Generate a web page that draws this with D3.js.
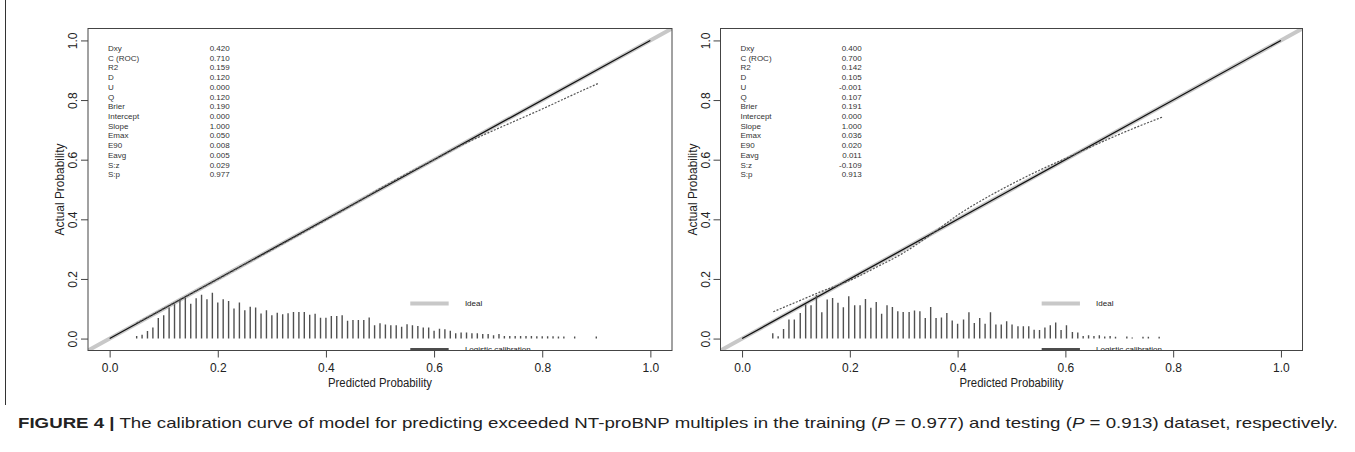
<!DOCTYPE html>
<html>
<head>
<meta charset="utf-8">
<script src="https://cdnjs.cloudflare.com/ajax/libs/d3/7.8.5/d3.min.js"></script>
<style>
  body { margin: 0; background: #fff; }
  svg { display: block; }
  text { font-family: "Liberation Sans", Arial, sans-serif; }
</style>
</head>
<body>
<div id="svg_area"></div>
<script>
// Statistic names and values printed in the upper left of each panel
var statNames = ["Dxy", "C (ROC)", "R2", "D", "U", "Q", "Brier", "Intercept", "Slope", "Emax", "E90", "Eavg", "S:z", "S:p"];
var trainStats = ["0.420", "0.710", "0.159", "0.120", "0.000", "0.120", "0.190", "0.000", "1.000", "0.050", "0.008", "0.005", "0.029", "0.977"];
var testStats = ["0.400", "0.700", "0.142", "0.105", "-0.001", "0.107", "0.191", "0.000", "1.000", "0.036", "0.020", "0.011", "-0.109", "0.913"];

// Axis ticks and legend
var axisTicks = [0, 0.2, 0.4, 0.6, 0.8, 1.0];
var legendLabels = ["Ideal", "Logistic calibration", "Nonparametric"];

// Logistic calibration (intercept, slope) for each dataset
var trainCal = [0, 1];
var testCal = [0, 1];

// Spike histogram of predicted probabilities (training)
var trainP = [0.05, 0.06, 0.07, 0.08, 0.09, 0.10, 0.11, 0.12, 0.13, 0.14,
  0.15, 0.16, 0.17, 0.18, 0.19, 0.20, 0.21, 0.22, 0.23, 0.24,
  0.25, 0.26, 0.27, 0.28, 0.29, 0.30, 0.31, 0.32, 0.33, 0.34,
  0.35, 0.36, 0.37, 0.38, 0.39, 0.40, 0.41, 0.42, 0.43, 0.44,
  0.45, 0.46, 0.47, 0.48, 0.49, 0.50, 0.51, 0.52, 0.53, 0.54,
  0.55, 0.56, 0.57, 0.58, 0.59, 0.60, 0.61, 0.62, 0.63, 0.64,
  0.65, 0.66, 0.67, 0.68, 0.69, 0.70, 0.71, 0.72, 0.73, 0.74,
  0.75, 0.76, 0.77, 0.78, 0.79, 0.80, 0.81, 0.82, 0.83, 0.84,
  0.86, 0.90];
var trainFreq = [0.009, 0.013, 0.025, 0.037, 0.069, 0.078, 0.104, 0.115, 0.132, 0.137,
  0.117, 0.135, 0.147, 0.132, 0.154, 0.121, 0.132, 0.126, 0.101, 0.121,
  0.095, 0.107, 0.104, 0.084, 0.095, 0.078, 0.087, 0.082, 0.085, 0.089,
  0.089, 0.089, 0.080, 0.083, 0.070, 0.070, 0.076, 0.076, 0.078, 0.060,
  0.062, 0.062, 0.062, 0.071, 0.045, 0.051, 0.047, 0.045, 0.045, 0.040,
  0.048, 0.045, 0.042, 0.037, 0.037, 0.026, 0.033, 0.031, 0.026, 0.018,
  0.020, 0.020, 0.018, 0.018, 0.015, 0.015, 0.011, 0.015, 0.009, 0.009,
  0.009, 0.009, 0.009, 0.009, 0.008, 0.008, 0.008, 0.008, 0.007, 0.007,
  0.007, 0.007];

// Spike histogram of predicted probabilities (testing)
var testP = [0.057, 0.067, 0.077, 0.087, 0.097, 0.108, 0.118, 0.128, 0.138, 0.148,
  0.158, 0.168, 0.178, 0.188, 0.198, 0.209, 0.219, 0.229, 0.239, 0.249,
  0.259, 0.269, 0.279, 0.289, 0.299, 0.310, 0.320, 0.330, 0.340, 0.350,
  0.360, 0.370, 0.380, 0.390, 0.400, 0.411, 0.421, 0.431, 0.441, 0.451,
  0.461, 0.471, 0.481, 0.491, 0.501, 0.512, 0.522, 0.532, 0.542, 0.552,
  0.562, 0.572, 0.582, 0.592, 0.602, 0.613, 0.623, 0.633, 0.643, 0.653,
  0.663, 0.673, 0.683, 0.693,
  0.714, 0.724, 0.744, 0.754, 0.774];
var testFreq = [0.018, 0.008, 0.032, 0.064, 0.064, 0.086, 0.114, 0.112, 0.147, 0.088,
  0.131, 0.136, 0.120, 0.105, 0.142, 0.112, 0.112, 0.133, 0.103, 0.123,
  0.083, 0.112, 0.106, 0.092, 0.089, 0.089, 0.094, 0.092, 0.069, 0.106,
  0.069, 0.071, 0.086, 0.061, 0.050, 0.064, 0.088, 0.052, 0.069, 0.050,
  0.088, 0.047, 0.047, 0.058, 0.047, 0.041, 0.041, 0.041, 0.030, 0.029,
  0.037, 0.045, 0.054, 0.029, 0.045, 0.022, 0.020, 0.009, 0.011, 0.009,
  0.011, 0.007, 0.009, 0.006,
  0.007, 0.004, 0.006, 0.006, 0.006];

// Nonparametric (lowess) calibration curves
var trainLowessX = [0.05, 0.10, 0.15, 0.20, 0.25, 0.30, 0.35, 0.40, 0.45, 0.50, 0.55, 0.60, 0.65, 0.70, 0.75, 0.80, 0.85, 0.905];
var trainLowessY = [0.052, 0.101, 0.150, 0.199, 0.249, 0.298, 0.348, 0.398, 0.449, 0.503, 0.553, 0.600, 0.648, 0.690, 0.730, 0.770, 0.812, 0.857];
var testLowessX = [0.058, 0.10, 0.15, 0.20, 0.25, 0.30, 0.35, 0.40, 0.45, 0.50, 0.55, 0.60, 0.65, 0.70, 0.75, 0.78];
var testLowessY = [0.090, 0.122, 0.160, 0.195, 0.240, 0.288, 0.348, 0.414, 0.469, 0.518, 0.563, 0.604, 0.645, 0.685, 0.722, 0.743];

// SVG area
var svgWidth = 1355;
var svgHeight = 452;

var svg = d3.select("#svg_area")
  .append("svg")
  .attr("width", svgWidth)
  .attr("height", svgHeight);

// figure frame line on the left
svg.append("line")
  .attr("x1", 5.5).attr("x2", 5.5)
  .attr("y1", 0).attr("y2", 405)
  .attr("stroke", "#333")
  .attr("stroke-width", 1);

var plotTop = 28.5;
var plotBottom = 350.5;

var panels = [
  { left: 88, right: 672, p: trainP, freq: trainFreq, lx: trainLowessX, ly: trainLowessY, stats: trainStats, cal: trainCal },
  { left: 720.5, right: 1302.5, p: testP, freq: testFreq, lx: testLowessX, ly: testLowessY, stats: testStats, cal: testCal }
];

function logistic(v) { return 1 / (1 + Math.exp(-v)); }
function logit(v) { return Math.log(v / (1 - v)); }

panels.forEach(function(panel, i) {

  // R style scales: 4% padding on both ends
  var xScale = d3.scaleLinear().domain([-0.04, 1.04]).range([panel.left, panel.right]);
  var yScale = d3.scaleLinear().domain([-0.04, 1.04]).range([plotBottom, plotTop]);

  var g = svg.append("g");

  svg.append("clipPath")
    .attr("id", "clip" + i)
    .append("rect")
    .attr("x", panel.left)
    .attr("y", plotTop)
    .attr("width", panel.right - panel.left)
    .attr("height", plotBottom - plotTop);

  var plot = g.append("g").attr("clip-path", "url(#clip" + i + ")");

  // Ideal line across the whole plot region
  var dom = xScale.domain();
  plot.append("line")
    .attr("x1", xScale(dom[0])).attr("y1", yScale(dom[0]))
    .attr("x2", xScale(dom[1])).attr("y2", yScale(dom[1]))
    .attr("stroke", "#c8c8c8")
    .attr("stroke-width", 4);

  // Logistic calibration line
  var calPts = [0.0001, 0.5, 0.9999].map(function(p) {
    return [p, logistic(panel.cal[0] + panel.cal[1] * logit(p))];
  });
  plot.append("path")
    .datum(calPts)
    .attr("d", d3.line().x(d => xScale(d[0])).y(d => yScale(d[1])))
    .attr("fill", "none")
    .attr("stroke", "#111")
    .attr("stroke-width", 1.3);

  // Nonparametric curve (dotted)
  plot.append("path")
    .datum(panel.lx.map((v, j) => [v, panel.ly[j]]))
    .attr("d", d3.line().curve(d3.curveMonotoneX).x(d => xScale(d[0])).y(d => yScale(d[1])))
    .attr("fill", "none")
    .attr("stroke", "#555")
    .attr("stroke-width", 1.2)
    .attr("stroke-dasharray", "2,1.5");

  // Spike histogram
  plot.selectAll(".spike")
    .data(panel.p)
    .enter()
    .append("line")
    .attr("class", "spike")
    .attr("x1", d => xScale(d))
    .attr("x2", d => xScale(d))
    .attr("y1", yScale(0))
    .attr("y2", (d, j) => yScale(panel.freq[j]))
    .attr("stroke", "#505050")
    .attr("stroke-width", 1.4);

  // Legend (the lower rows fall below the plot region and get clipped)
  var legendY = [0.118, -0.035, -0.188];
  var legendStroke = ["#c8c8c8", "#111", "#555"];
  var legendWidth = [4, 1.4, 1.2];
  legendLabels.forEach(function(lab, k) {
    plot.append("line")
      .attr("x1", xScale(0.556)).attr("x2", xScale(0.627))
      .attr("y1", yScale(legendY[k])).attr("y2", yScale(legendY[k]))
      .attr("stroke", legendStroke[k])
      .attr("stroke-width", legendWidth[k])
      .attr("stroke-dasharray", k == 2 ? "2,1.5" : null);
    plot.append("text")
      .attr("x", xScale(0.657))
      .attr("y", yScale(legendY[k]))
      .attr("dy", "0.36em")
      .attr("font-size", "8px")
      .attr("fill", "#222")
      .text(lab);
  });

  // Statistics block
  var statsGroup = g.append("g").attr("font-size", "8px").attr("fill", "#333");
  statNames.forEach(function(name, k) {
    var yy = yScale(0.974 - k * 0.0326);
    statsGroup.append("text")
      .attr("x", xScale(-0.003))
      .attr("y", yy)
      .attr("dy", "0.35em")
      .text(name);
    statsGroup.append("text")
      .attr("x", xScale(0.222))
      .attr("y", yy)
      .attr("dy", "0.35em")
      .attr("text-anchor", "end")
      .text(panel.stats[k]);
  });

  // Box around the plot region
  g.append("rect")
    .attr("x", panel.left)
    .attr("y", plotTop)
    .attr("width", panel.right - panel.left)
    .attr("height", plotBottom - plotTop)
    .attr("fill", "none")
    .attr("stroke", "#444")
    .attr("stroke-width", 1);

  // Bottom axis
  var bottomAxis = d3.axisBottom(xScale)
    .tickValues(axisTicks)
    .tickSize(7)
    .tickPadding(6)
    .tickFormat(d3.format(".1f"));

  var xAxisG = g.append("g")
    .attr("transform", "translate(0," + plotBottom + ")")
    .call(bottomAxis);
  xAxisG.select(".domain").remove();
  xAxisG.selectAll("line").attr("stroke", "#444");
  xAxisG.selectAll("text")
    .attr("font-family", "'Liberation Sans', Arial, sans-serif")
    .attr("font-size", "12px")
    .attr("fill", "#222");

  // Left axis, labels rotated like R's default
  var leftAxis = d3.axisLeft(yScale)
    .tickValues(axisTicks)
    .tickSize(7)
    .tickFormat(d3.format(".1f"));

  var yAxisG = g.append("g")
    .attr("transform", "translate(" + panel.left + ",0)")
    .call(leftAxis);
  yAxisG.select(".domain").remove();
  yAxisG.selectAll("line").attr("stroke", "#444");
  yAxisG.selectAll("text")
    .attr("transform", "rotate(-90)")
    .attr("x", 0)
    .attr("y", -11)
    .attr("dy", 0)
    .attr("text-anchor", "middle")
    .attr("font-family", "'Liberation Sans', Arial, sans-serif")
    .attr("font-size", "12px")
    .attr("fill", "#222");

  // Axis titles
  g.append("text")
    .attr("x", xScale(0.5))
    .attr("y", plotBottom + 36)
    .attr("text-anchor", "middle")
    .attr("font-size", "12px")
    .attr("textLength", 104)
    .attr("lengthAdjust", "spacingAndGlyphs")
    .attr("fill", "#222")
    .text("Predicted Probability");

  g.append("text")
    .attr("transform", "rotate(-90)")
    .attr("x", -yScale(0.5))
    .attr("y", panel.left - 24)
    .attr("text-anchor", "middle")
    .attr("font-size", "12px")
    .attr("textLength", 92)
    .attr("lengthAdjust", "spacingAndGlyphs")
    .attr("fill", "#222")
    .text("Actual Probability");
});

// Figure caption
var caption = svg.append("text")
  .attr("x", 18)
  .attr("y", 428)
  .attr("font-size", "15px")
  .attr("fill", "#222")
  .attr("textLength", 1320)
  .attr("lengthAdjust", "spacingAndGlyphs");
caption.append("tspan").attr("font-weight", "bold").text("FIGURE 4 |");
caption.append("tspan").text(" The calibration curve of model for predicting exceeded NT-proBNP multiples in the training (");
caption.append("tspan").attr("font-style", "italic").text("P");
caption.append("tspan").text(" = 0.977) and testing (");
caption.append("tspan").attr("font-style", "italic").text("P");
caption.append("tspan").text(" = 0.913) dataset, respectively.");
</script>
</body>
</html>
